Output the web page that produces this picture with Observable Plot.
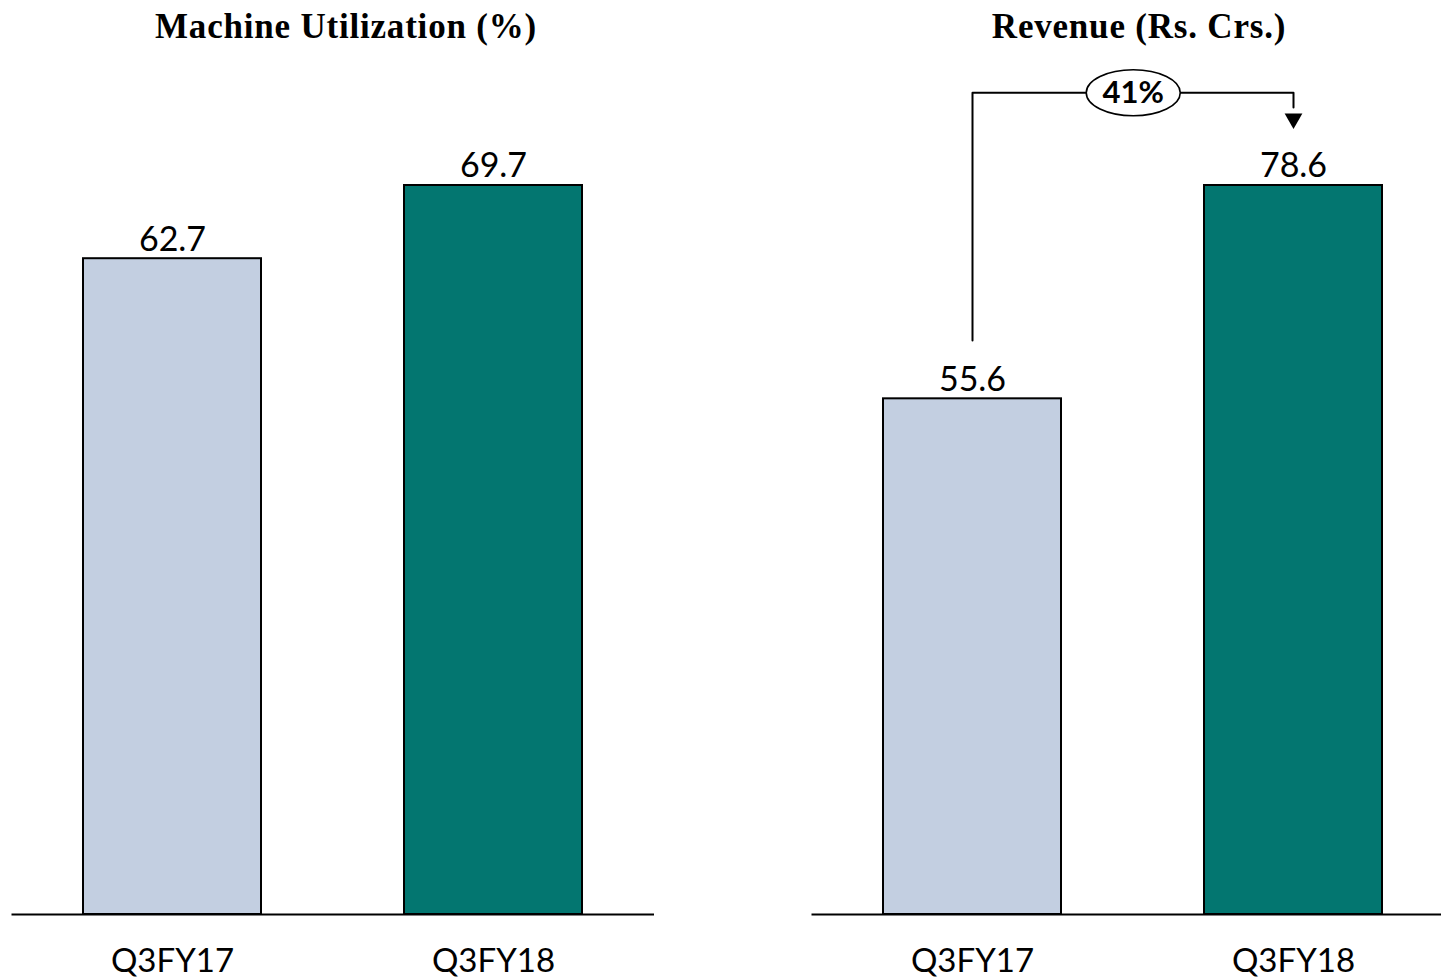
<!DOCTYPE html>
<html>
<head>
<meta charset="utf-8">
<script src="https://cdn.jsdelivr.net/npm/d3@7"></script>
<script src="https://cdn.jsdelivr.net/npm/@observablehq/plot@0.6"></script>
<style>
  html, body { margin: 0; padding: 0; background: #fff; overflow: hidden; }
  #wrap { position: relative; width: 1441px; height: 978px; overflow: hidden; }
  .title { position: absolute; top: 7px; text-align: center; font-family: "Liberation Serif", serif; font-weight: bold; font-size: 35px; letter-spacing: 0.8px; color: #000; }
  .chart { position: absolute; top: 0; }
  .chart svg { max-width: none !important; }
</style>
</head>
<body>
<div id="wrap">
  <div class="title" id="t1" style="left:96px; width:500px;"></div>
  <div class="title" id="t2" style="left:889px; width:500px;"></div>
  <div class="chart" id="c1" style="left:0px; width:720px;"></div>
  <div class="chart" id="c2" style="left:720px; width:734px;"></div>
</div>
<script>
// ---- data ----
const categories = ["Q3FY17", "Q3FY18"];
const utilization = [62.7, 69.7];
const revenue = [55.6, 78.6];
const barColors = ["#c3cfe1", "#037670"];
const titles = ["Machine Utilization (%)", "Revenue (Rs. Crs.)"];
const growthLabel = "41%";
// annotation levels in revenue units
const connectorStart = 61.9;
const connectorTop = 88.6;
const connectorEnd = 87.0;
const arrowCenter = 85.8;

document.getElementById("t1").textContent = titles[0];
document.getElementById("t2").textContent = titles[1];

const labelFont = "Lato, 'Open Sans', sans-serif";

function makeChart(values, opts) {
  const data = categories.map((c, i) => ({cat: c, value: values[i], color: barColors[i]}));
  const extra = opts.extra || [];
  return Plot.plot({
    width: opts.width,
    height: 978,
    marginTop: 185,
    marginBottom: 64,
    marginLeft: opts.marginLeft,
    marginRight: opts.marginRight,
    style: {background: "transparent", fontFamily: labelFont, overflow: "visible", maxWidth: "none"},
    x: {domain: categories, paddingInner: 0.444, paddingOuter: 0.222, axis: null},
    y: {domain: [0, d3.max(values)], axis: null},
    marks: [
      Plot.barY(data, {x: "cat", y: "value", fill: "color", stroke: "#000", strokeWidth: 2, insetLeft: 0, insetRight: 0}),
      Plot.ruleY([0], {stroke: "#000", strokeWidth: 2}),
      Plot.text(data, {x: "cat", y: "value", text: d => d.value.toFixed(1), dy: -19, fontSize: 34, fill: "#000"}),
      Plot.text(data, {x: "cat", text: "cat", frameAnchor: "bottom", dy: 57, fontSize: 33, fill: "#000"}),
      ...extra
    ]
  });
}

const c1 = makeChart(utilization, {width: 720, marginLeft: 11.5, marginRight: 66});
document.getElementById("c1").appendChild(c1);

const connector = [
  {cat: categories[0], v: connectorStart},
  {cat: categories[0], v: connectorTop},
  {cat: categories[1], v: connectorTop},
  {cat: categories[1], v: connectorEnd}
];

const c2 = makeChart(revenue, {
  width: 734, marginLeft: 91.5, marginRight: 0,
  extra: [
    Plot.line(connector, {x: "cat", y: "v", stroke: "#000", strokeWidth: 2}),
    Plot.dot([{cat: categories[1], v: arrowCenter}], {x: "cat", y: "v", symbol: "triangle", r: 6.6, rotate: 180, fill: "#000", stroke: "none"}),
    Plot.dot([connectorTop], {y: d => d, frameAnchor: "middle", r: 20, fill: "#fff", stroke: "#000", strokeWidth: 1.6}),
    Plot.text([growthLabel], {y: () => connectorTop, frameAnchor: "middle", text: d => d, fontSize: 31, fontWeight: "bold", fill: "#000"})
  ]
});
document.getElementById("c2").appendChild(c2);

// turn the label circle into an ellipse
d3.select(c2).selectAll("circle").each(function() {
  const c = d3.select(this);
  const cx = c.attr("cx"), cy = c.attr("cy");
  const parent = this.parentNode;
  const e = document.createElementNS("http://www.w3.org/2000/svg", "ellipse");
  e.setAttribute("cx", cx == null ? 0 : cx);
  e.setAttribute("cy", cy == null ? 0 : cy);
  e.setAttribute("rx", 47);
  e.setAttribute("ry", 23);
  const tr = c.attr("transform");
  if (tr) e.setAttribute("transform", tr);
  parent.insertBefore(e, this);
  parent.removeChild(this);
});
</script>
</body>
</html>
